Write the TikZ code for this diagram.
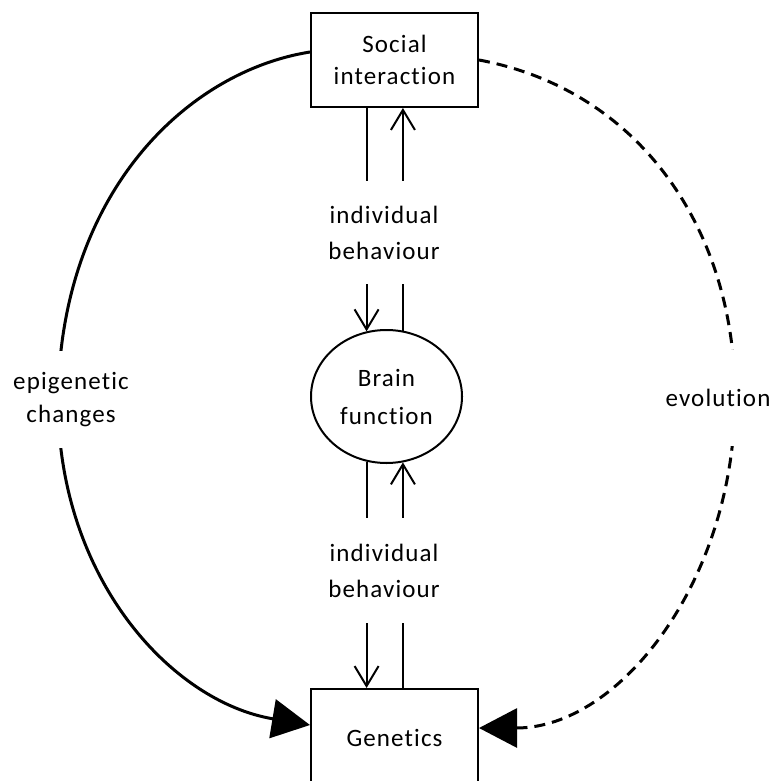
\documentclass[tikz,border=0pt]{standalone}
\usepackage{fontspec}
\setmainfont{Carlito}[LetterSpace=4.5,Ligatures=NoCommon]
\usetikzlibrary{arrows.meta,shapes.geometric}
\begin{document}
\begin{tikzpicture}[x=1pt,y=-1pt,
  every node/.style={font=\fontsize{25}{35}\selectfont},
  box/.style={draw,line width=2pt,minimum width=167pt,minimum height=94pt,align=center,inner sep=0pt},
  oval/.style={ellipse,draw,line width=2pt,minimum width=151pt,minimum height=133pt,align=center,inner sep=0pt},
  conn/.style={line width=2pt},
  vtip/.style={-{Straight Barb[length=20pt,width=24pt]}},
  bigtip/.style={-{Triangle[length=38pt,width=39pt]}},
  lbl/.style={fill=white,align=center,inner xsep=2pt,inner ysep=0pt},
  solidarc/.style={line width=3pt},
  dasharc/.style={line width=3pt,dash pattern=on 11pt off 7pt}
]
\useasboundingbox (0,0) rectangle (775,781);
\node[box] (social) at (394.5,60) {Social\\[-3pt]interaction};
\node[oval] (brain) at (386.5,396.5) {Brain\\[3pt]function};
\node[box,minimum height=98pt] (genetics) at (394.5,738) {Genetics};

\draw[conn,vtip] (social.south -| brain.107) -- (brain.107);
\draw[conn,vtip] (brain.76) -- (social.south -| brain.76);
\draw[conn,vtip] (brain.-107) -- (genetics.north -| brain.-107);
\draw[conn,vtip] (genetics.north -| brain.-76) -- (brain.-76);

\draw[solidarc,bigtip] ([yshift=8pt]social.west) .. controls (185,72) and (60,195) .. (58,400)
  .. controls (58,579) and (172,702) .. ([yshift=13pt]genetics.west);
\draw[dasharc,bigtip] (social.east) .. controls (640,90) and (735,230) .. (735,397)
  .. controls (735,580) and (620,728) .. ([yshift=10pt]genetics.east);

\node[lbl,minimum height=103pt] (ib1) at (384,232.5) {individual\\[1pt]behaviour};
\node[lbl,minimum height=105pt] (ib2) at (384,570.5) {individual\\[1pt]behaviour};
\node[lbl,minimum height=97pt] (epi) at (71,399.5) {epigenetic\\[-2pt]changes};
\node[lbl,minimum height=96pt] (evo) at (718,397.5) {evolution};
\end{tikzpicture}
\end{document}
